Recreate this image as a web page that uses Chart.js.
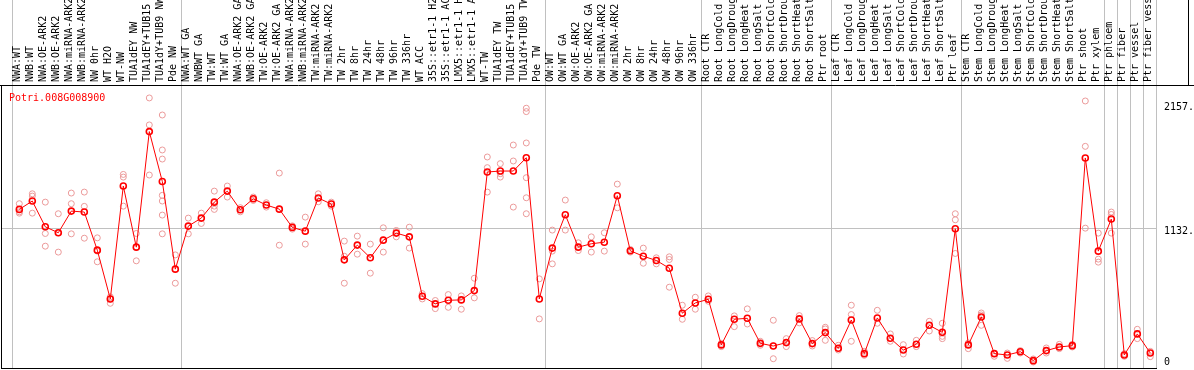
<!DOCTYPE html>
<html>
<head>
<meta charset="utf-8">
<script src="https://cdn.jsdelivr.net/npm/chart.js@4"></script>
<style>
  html, body { margin: 0; padding: 0; background: #fff; }
  canvas { display: block; }
</style>
</head>
<body>
<canvas id="chart" width="1194" height="370"></canvas>
<script>
const geneId = 'Potri.008G008900';

const categories = [
  'NWA:WT', 'NWB:WT', 'NWA:OE-ARK2', 'NWB:OE-ARK2', 'NWA:miRNA-ARK2', 'NWB:miRNA-ARK2',
  'NW 0hr', 'WT H2O', 'WT-NW', 'TUA1dEY NW', 'TUA1dEY+TUB15 NW', 'TUA1dY+TUB9 NW', 'Pde NW',
  'NWA:WT GA', 'NWBWT GA', 'TW:WT', 'TW:WT GA', 'NWA:OE-ARK2 GA', 'NWB:OE-ARK2 GA',
  'TW:OE-ARK2', 'TW:OE-ARK2 GA', 'NWA:miRNA-ARK2 GA', 'NWB:miRNA-ARK2 GA', 'TW:miRNA-ARK2',
  'TW:miRNA-ARK2 GA', 'TW 2hr', 'TW 8hr', 'TW 24hr', 'TW 48hr', 'TW 96hr', 'TW 336hr',
  'WT ACC', '35S::etr1-1 H2O', '35S::etr1-1 ACC', 'LMX5::etr1-1 H2O', 'LMX5::etr1-1 ACC',
  'WT-TW', 'TUA1dEY TW', 'TUA1dEY+TUB15 TW', 'TUA1dY+TUB9 TW', 'Pde TW',
  'OW:WT', 'OW:WT GA', 'OW:OE-ARK2', 'OW:OE-ARK2 GA', 'OW:miRNA-ARK2', 'OW:miRNA-ARK2 GA',
  'OW 2hr', 'OW 8hr', 'OW 24hr', 'OW 48hr', 'OW 96hr', 'OW 336hr',
  'Root CTR', 'Root LongCold', 'Root LongDrought', 'Root LongHeat', 'Root LongSalt',
  'Root ShortCold', 'Root ShortDrought', 'Root ShortHeat', 'Root ShortSalt', 'Ptr root',
  'Leaf CTR', 'Leaf LongCold', 'Leaf LongDrought', 'Leaf LongHeat', 'Leaf LongSalt',
  'Leaf ShortCold', 'Leaf ShortDrought', 'Leaf ShortHeat', 'Leaf ShortSalt', 'Ptr leaf',
  'Stem CTR', 'Stem LongCold', 'Stem LongDrought', 'Stem LongHeat', 'Stem LongSalt',
  'Stem ShortCold', 'Stem ShortDrought', 'Stem ShortHeat', 'Stem ShortSalt', 'Ptr shoot',
  'Ptr xylem', 'Ptr phloem', 'Ptr fiber', 'Ptr vessel', 'Ptr fiber vessel',
];

// mean expression per sample (the red line)
const means = [
  1286, 1355, 1142, 1093, 1272, 1264, 949, 546, 1479, 974, 1929, 1517, 792,
  1148, 1214, 1346, 1437, 1283, 1374, 1322, 1288, 1137, 1106, 1380, 1330,
  869, 991, 886, 1032, 1090, 1059, 568, 505, 535, 538, 615,
  1595, 1603, 1603, 1713, 546,
  966, 1242, 974, 1002, 1015, 1399, 944, 899, 864, 800, 428, 513,
  543, 166, 378, 386, 179, 157, 185, 381, 177, 268,
  138, 372, 94, 389, 221, 124, 171, 328, 270, 1126,
  166, 397, 94, 83, 110, 36, 119, 149, 160, 1711, 941,
  1206, 83, 257, 99,
];

// individual replicates (the pale circles)
const replicates = [
  [1333, 1266, 1255], [1415, 1396, 1255], [1346, 1087, 982], [1250, 1093, 933],
  [1421, 1333, 1084], [1429, 1311, 1048], [1051, 941, 853], [563, 546, 510],
  [1575, 1553, 1313], [1087, 974, 861], [2207, 1984, 1570],
  [2066, 1777, 1702, 1402, 1355, 1239, 1084], [910, 676],
  [1214, 1084], [1255, 1170], [1437, 1313, 1286], [1479, 1388], [1300, 1266],
  [1388, 1360], [1341, 1305], [1586, 990], [1150, 1123], [1222, 999], [1415, 1349],
  [1346, 1313], [1024, 899, 676], [1065, 916], [999, 759], [1134, 933], [1112, 1059],
  [1139, 966], [590, 546], [533, 466], [582, 477], [571, 461], [717, 555],
  [1719, 1631, 1429], [1664, 1581, 1553], [1818, 1686, 1305],
  [2122, 2094, 1835, 1548, 1382, 1250], [712, 381],
  [1115, 941, 836], [1363, 1115], [1010, 946], [1059, 933], [1093, 941], [1495, 1299],
  [955, 933], [966, 841], [886, 836], [894, 872, 643], [494, 378], [560, 461],
  [571, 527], [179, 152], [406, 317], [464, 339], [196, 163], [370, 157, 52],
  [218, 152], [408, 348], [202, 157], [312, 298, 204],
  [163, 124], [494, 417, 196], [113, 80], [452, 345], [257, 196], [168, 91],
  [204, 152], [361, 281], [345, 237, 218], [1250, 1200, 922],
  [182, 135], [430, 414, 328], [72, 94], [99, 55], [119, 99], [50, 25], [141, 99],
  [171, 135], [171, 149], [2182, 1807, 1131], [1090, 875, 850],
  [1264, 1244, 1090], [94, 72], [295, 218], [113, 69],
];

const yTicks = [0, 1132, 2157];
// first sample of each group gets a separator line on its left
const groupStarts = [0, 13, 41, 53, 63, 73, 84, 85, 86, 87];

const gridGrey = '#c0c0c0';
const clear = 'rgba(0,0,0,0)';
const monoFont = { family: '"DejaVu Sans Mono", monospace', size: 10 };

const meanPoints = means.map((v, i) => ({ x: i, y: v }));
const repPoints = [];
replicates.forEach((list, i) => {
  list.forEach((v) => repPoints.push({ x: i, y: v }));
});

const framePlugin = {
  id: 'frame',
  afterDraw(chart) {
    const { ctx, chartArea: a, width } = chart;
    ctx.save();
    ctx.strokeStyle = '#000';
    ctx.lineWidth = 1;
    ctx.beginPath();
    ctx.moveTo(0, a.top + 0.5);
    ctx.lineTo(width, a.top + 0.5);
    ctx.moveTo(a.left + 0.5, a.top);
    ctx.lineTo(a.left + 0.5, a.bottom);
    ctx.moveTo(a.left, a.bottom - 0.5);
    ctx.lineTo(a.right, a.bottom - 0.5);
    ctx.moveTo(width - 5.5, 0);
    ctx.lineTo(width - 5.5, a.top);
    ctx.stroke();
    ctx.fillStyle = '#f00';
    ctx.font = '10px "DejaVu Sans Mono", monospace';
    ctx.textBaseline = 'alphabetic';
    ctx.fillText(geneId, a.left + 8, a.top + 15.5);
    ctx.restore();
  },
};

const noPadding = (axis) => {
  axis.paddingTop = 0;
  axis.paddingBottom = 0;
  axis.paddingLeft = 0;
  axis.paddingRight = 0;
};

new Chart(document.getElementById('chart'), {
  type: 'scatter',
  data: {
    datasets: [
      {
        label: geneId,
        data: meanPoints,
        showLine: true,
        borderColor: '#f00',
        borderWidth: 1,
        tension: 0,
        pointRadius: 3,
        pointBorderWidth: 1.6,
        pointBorderColor: '#f00',
        pointBackgroundColor: clear,
        order: 0,
      },
      {
        label: 'replicates',
        data: repPoints,
        pointRadius: 3,
        pointBorderWidth: 1,
        borderColor: '#eb9a9a',
        backgroundColor: clear,
        order: 1,
      },
    ],
  },
  options: {
    responsive: false,
    animation: false,
    layout: { autoPadding: false, padding: { left: 1, right: 0, top: 0, bottom: 1 } },
    plugins: {
      legend: { display: false },
      tooltip: { enabled: false },
    },
    scales: {
      x: {
        type: 'linear',
        position: 'top',
        bounds: 'data',
        min: -1.408,
        max: 87.515,
        afterBuildTicks: (axis) => {
          axis.ticks = categories.map((_, i) => ({ value: i }));
        },
        afterFit: (axis) => {
          axis.height = 85;
          noPadding(axis);
        },
        grid: {
          offset: true,
          drawTicks: true,
          tickLength: 85,
          color: (c) => (c.type !== 'tick' || groupStarts.includes(c.index) ? gridGrey : clear),
        },
        border: { display: false },
        ticks: {
          autoSkip: false,
          minRotation: 90,
          maxRotation: 90,
          padding: -82,
          labelOffset: 10,
          font: monoFont,
          color: '#000',
          callback: (v) => categories[v],
        },
      },
      y: {
        type: 'linear',
        position: 'right',
        min: -33,
        max: 2314,
        afterBuildTicks: (axis) => {
          axis.ticks = yTicks.map((v) => ({ value: v }));
        },
        afterFit: (axis) => {
          axis.width = 37;
          noPadding(axis);
        },
        grid: {
          drawTicks: false,
          color: (c) => (c.tick && c.tick.value === 1132 ? gridGrey : clear),
        },
        border: { display: false },
        ticks: {
          padding: 7,
          labelOffset: 3,
          font: monoFont,
          color: '#000',
          callback: (v) => (v === 0 ? ['0', ''] : v + '.'),
        },
      },
    },
  },
  plugins: [framePlugin],
});
</script>
</body>
</html>
